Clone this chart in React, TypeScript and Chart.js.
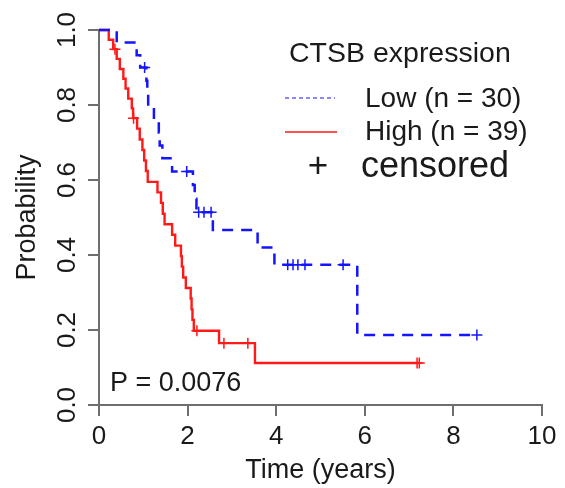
import { useEffect, useRef } from "react";
import { Chart, registerables } from "chart.js";

Chart.register(...registerables);

const FONT = "'Liberation Sans', Arial, Helvetica, sans-serif";

// Low CTSB expression (n = 30): event times (years) and survival after each step
const lowTimes = [0, 0.40, 0.85, 0.93, 1.07, 1.09, 1.11, 1.24, 1.35, 1.37, 1.43, 1.65, 2.12, 2.16, 2.20, 2.57, 3.58, 3.96, 5.83, 8.53];
const lowSurv = [1, 0.967, 0.933, 0.9, 0.865, 0.831, 0.796, 0.762, 0.727, 0.692, 0.658, 0.623, 0.587, 0.55, 0.514, 0.467, 0.42, 0.374, 0.187, 0.187];
const lowCensor = [1.03, 1.98, 2.25, 2.37, 2.53, 4.26, 4.38, 4.49, 4.65, 5.51, 8.53];

// High CTSB expression (n = 39)
const highTimes = [0, 0.22, 0.32, 0.40, 0.47, 0.55, 0.60, 0.66, 0.74, 0.77, 0.86, 0.92, 0.98, 1.02, 1.06, 1.10, 1.32, 1.40, 1.44, 1.48, 1.65, 1.72, 1.85, 1.87, 1.90, 1.96, 2.07, 2.09, 2.11, 2.14, 2.71, 3.52, 7.23];
const highSurv = [1, 0.974, 0.949, 0.923, 0.896, 0.87, 0.844, 0.817, 0.791, 0.765, 0.737, 0.708, 0.68, 0.652, 0.624, 0.595, 0.567, 0.539, 0.51, 0.482, 0.454, 0.425, 0.397, 0.369, 0.34, 0.312, 0.284, 0.255, 0.227, 0.198, 0.165, 0.112, 0.112];
const highCensor = [0.36, 0.78, 2.21, 2.82, 3.36, 7.18, 7.23];

const yTickValues = [0, 0.2, 0.4, 0.6, 0.8, 1.0];
const yTickLabels = ["0.0", "0.2", "0.4", "0.6", "0.8", "1.0"];
const xTitle = "Time (years)";
const yTitle = "Probability";
const legendTitle = "CTSB expression";
const seriesLabels = ["Low (n = 30)", "High (n = 39)"];
const censorLabel = "censored";
const pValueText = "P = 0.0076";

const BLUE = "#1414ff";
const RED = "#ff1a1a";
const TEXT = "#1a1a1a";
const AXIS = "#6e6e6e";

function survAt(times: number[], surv: number[], t: number) {
  let v = surv[0];
  for (let i = 0; i < times.length; i++) if (times[i] <= t) v = surv[i];
  return v;
}

const overlay = {
  id: "overlay",
  afterDraw(chart: any) {
    const ctx = chart.ctx as CanvasRenderingContext2D;
    const ys = chart.scales.y;
    ctx.save();
    ctx.fillStyle = TEXT;
    // rotated y tick labels
    ctx.font = `26px ${FONT}`;
    ctx.textAlign = "center";
    ctx.textBaseline = "middle";
    yTickValues.forEach((v, i) => {
      const py = ys.getPixelForValue(v);
      ctx.save();
      ctx.translate(68, py);
      ctx.rotate(-Math.PI / 2);
      ctx.fillText(yTickLabels[i], 0, 0);
      ctx.restore();
    });
    // p value
    ctx.textAlign = "left";
    ctx.font = `27px ${FONT}`;
    ctx.fillText(pValueText, 110, 384);
    // legend
    ctx.font = `28.5px ${FONT}`;
    ctx.fillText(legendTitle, 289, 54);
    ctx.font = `28px ${FONT}`;
    ctx.fillText(seriesLabels[0], 365, 99);
    ctx.fillText(seriesLabels[1], 365, 132);
    ctx.strokeStyle = BLUE;
    ctx.lineWidth = 1.2;
    ctx.setLineDash([4, 3]);
    ctx.beginPath();
    ctx.moveTo(285, 98);
    ctx.lineTo(335, 98);
    ctx.stroke();
    ctx.setLineDash([]);
    ctx.strokeStyle = "#ff5050";
    ctx.lineWidth = 2;
    ctx.beginPath();
    ctx.moveTo(285, 132);
    ctx.lineTo(337, 132);
    ctx.stroke();
    ctx.font = `35px ${FONT}`;
    ctx.textAlign = "center";
    ctx.fillText("+", 318, 167);
    ctx.textAlign = "left";
    ctx.font = `36px ${FONT}`;
    ctx.fillText(censorLabel, 361, 167);
    ctx.restore();
  },
};

export default function App() {
  const ref = useRef<HTMLCanvasElement>(null);
  useEffect(() => {
    const lowLine = lowTimes.map((t, i) => ({ x: t, y: lowSurv[i] }));
    const highLine = highTimes.map((t, i) => ({ x: t, y: highSurv[i] }));
    const lowMarks = lowCensor.map((t) => ({ x: t, y: survAt(lowTimes, lowSurv, t) }));
    const highMarks = highCensor.map((t) => ({ x: t, y: survAt(highTimes, highSurv, t) }));
    const tickFont = { family: FONT, size: 26 };
    const titleFont = { family: FONT, size: 27 };
    const chart = new Chart(ref.current as HTMLCanvasElement, {
      type: "line",
      data: {
        datasets: [
          { data: highLine, borderColor: RED, borderWidth: 2.4, stepped: true, pointRadius: 0, clip: false, order: 3 } as any,
          { data: lowLine, borderColor: BLUE, borderWidth: 2.5, borderDash: [11, 8], stepped: true, pointRadius: 0, clip: false, order: 2 } as any,
          { data: highMarks, showLine: false, pointStyle: "cross", pointRadius: 5.5, pointBorderWidth: 1.5, borderColor: RED, clip: false, order: 1 } as any,
          { data: lowMarks, showLine: false, pointStyle: "cross", pointRadius: 5.5, pointBorderWidth: 1.5, borderColor: BLUE, clip: false, order: 0 } as any,
        ],
      },
      options: {
        animation: false,
        responsive: true,
        maintainAspectRatio: false,
        layout: { padding: { top: 30, right: 23, left: 0, bottom: 0 } },
        plugins: { legend: { display: false }, tooltip: { enabled: false } },
        scales: {
          x: {
            type: "linear",
            min: 0,
            max: 10,
            afterFit: (s: any) => { s.height = 83; },
            ticks: { stepSize: 2, font: tickFont, color: TEXT, padding: 5, maxRotation: 0, autoSkip: false },
            grid: { drawOnChartArea: false, drawTicks: true, tickLength: 11, color: AXIS, lineWidth: 2 },
            border: { display: true, color: AXIS, width: 2 },
            title: { display: true, text: xTitle, font: titleFont, color: TEXT, padding: { top: 0, bottom: 1 } },
          },
          y: {
            type: "linear",
            min: 0,
            max: 1,
            afterFit: (s: any) => { s.width = 99; },
            ticks: { stepSize: 0.2, display: false },
            grid: { drawOnChartArea: false, drawTicks: true, tickLength: 11, color: AXIS, lineWidth: 2 },
            border: { display: true, color: AXIS, width: 2 },
            title: { display: true, text: yTitle, font: titleFont, color: TEXT, padding: { top: 11, bottom: 0 } },
          },
        },
      },
      plugins: [overlay],
    });
    return () => chart.destroy();
  }, []);
  return (
    <div style={{ position: "absolute", left: 0, top: 0, width: 565, height: 488 }}>
      <canvas ref={ref} />
    </div>
  );
}
